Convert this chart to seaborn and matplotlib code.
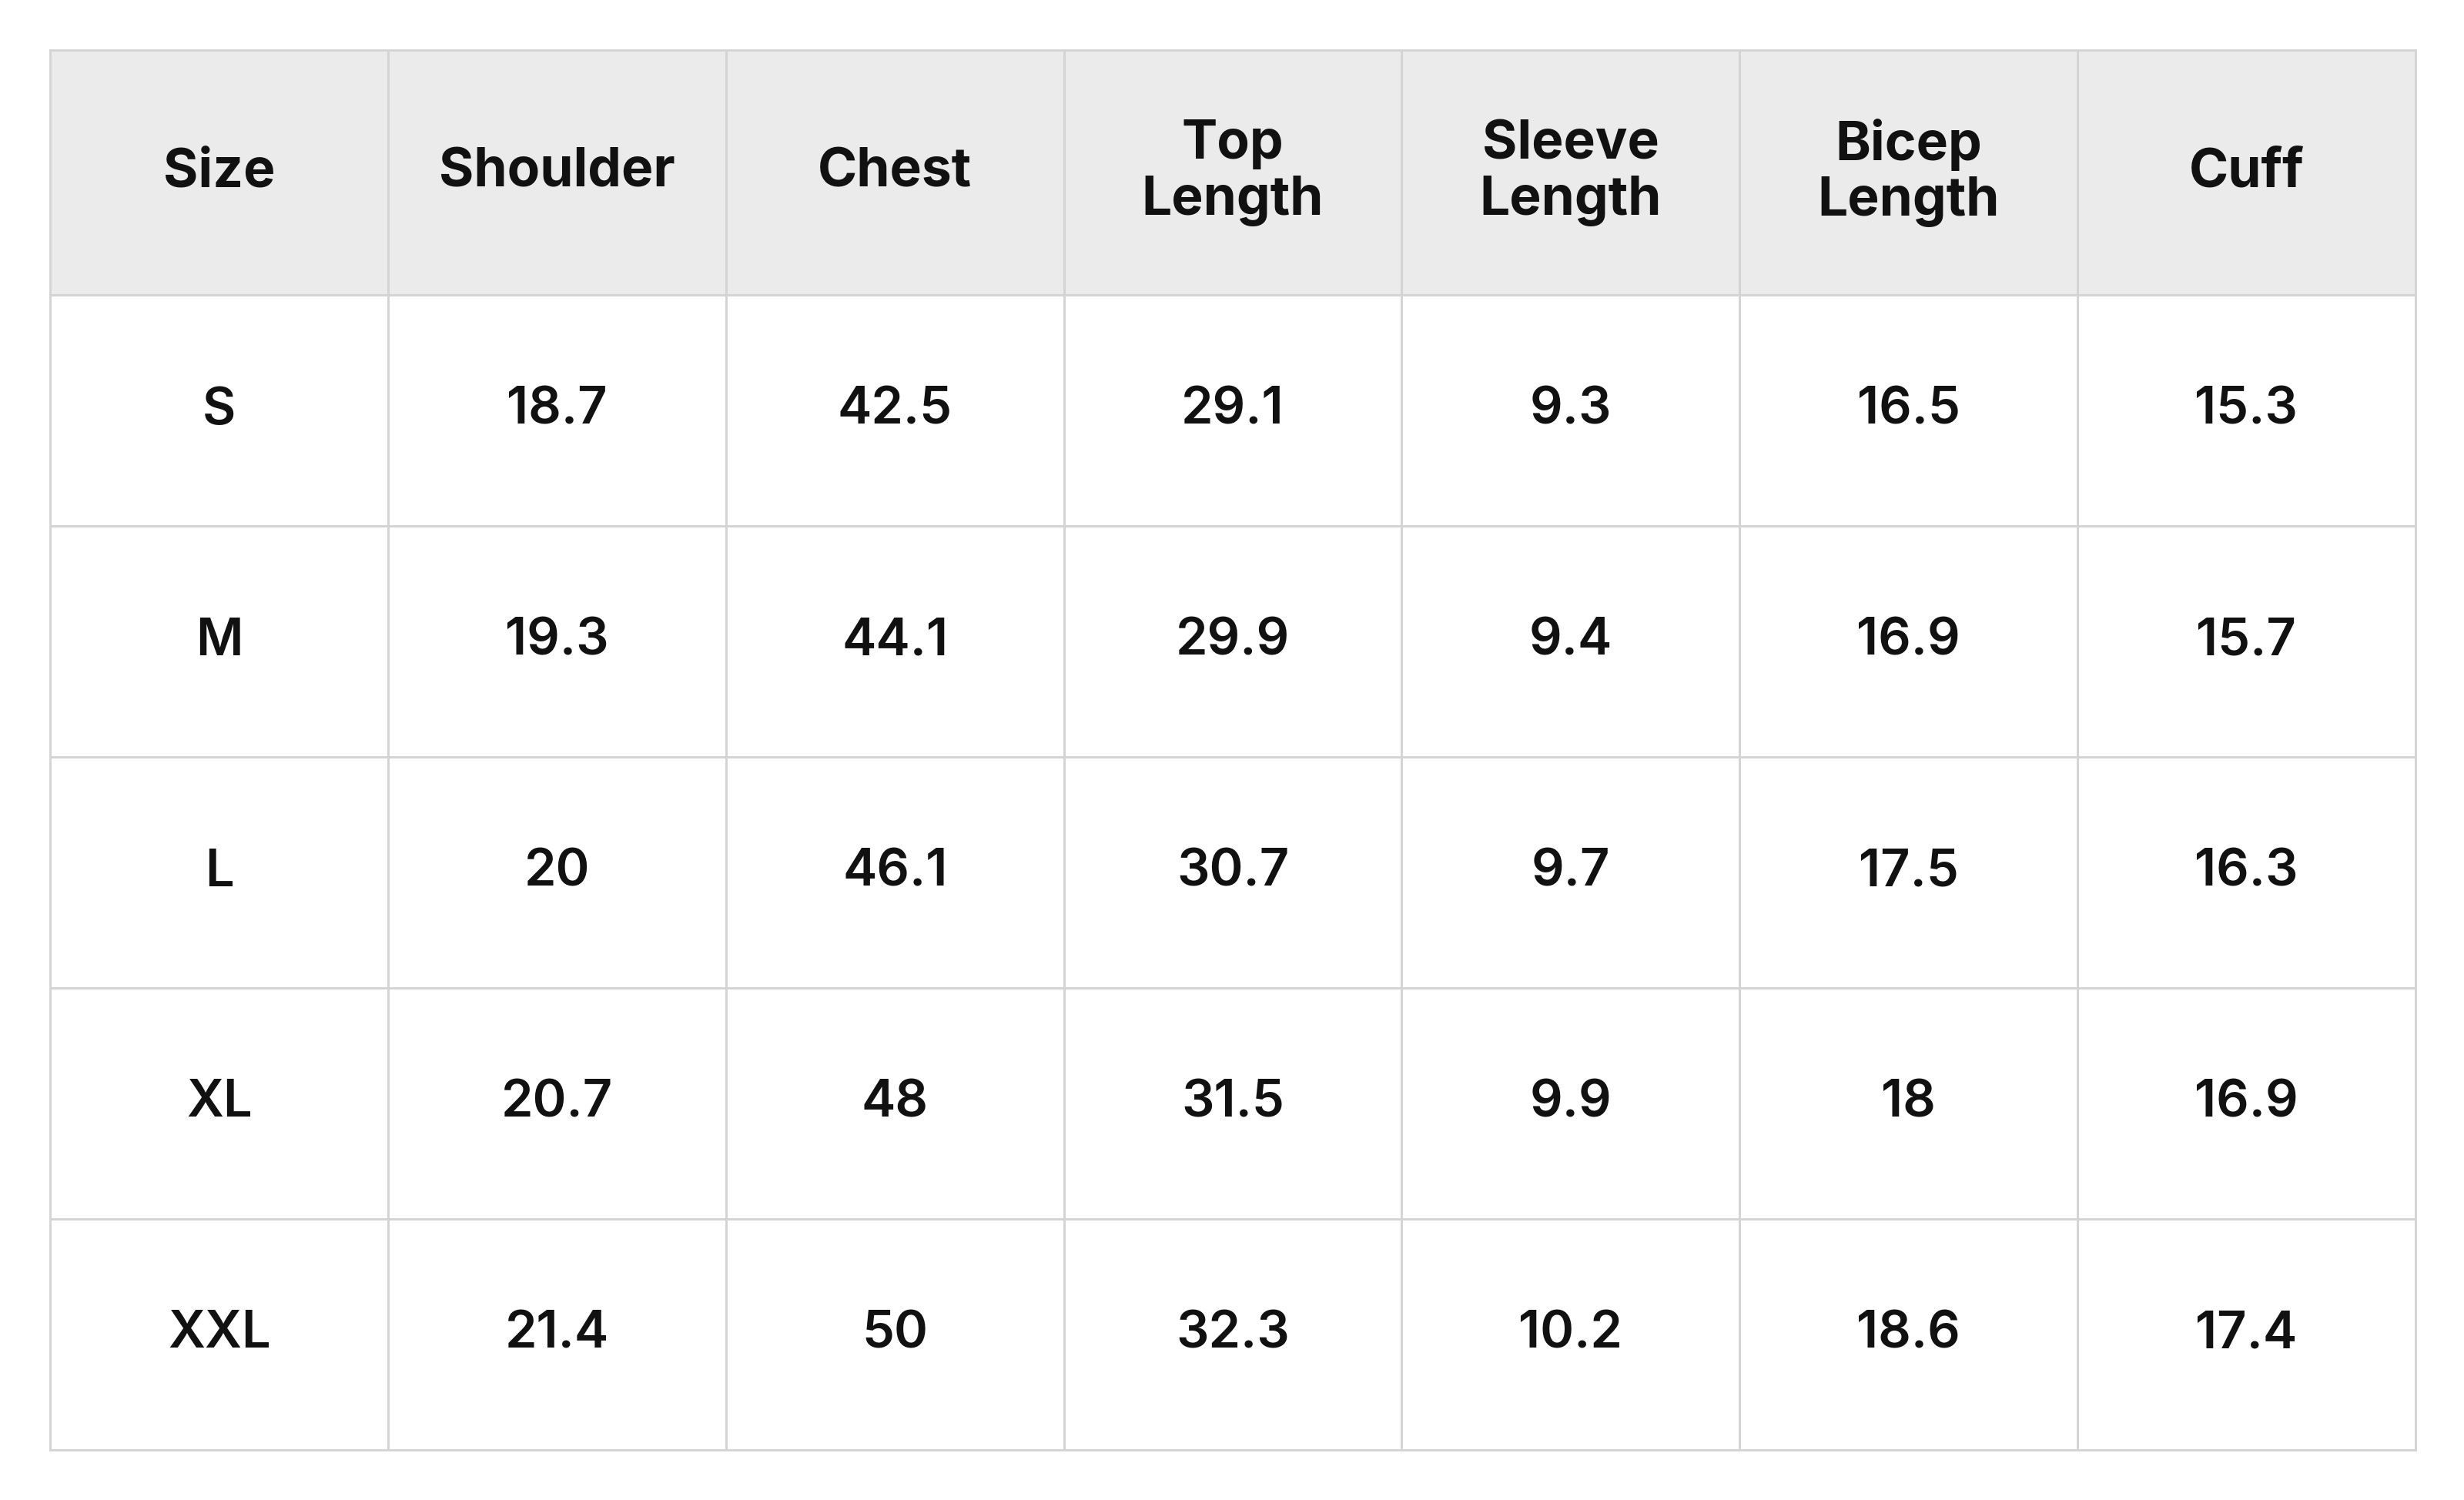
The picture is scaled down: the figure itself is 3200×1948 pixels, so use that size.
import numpy as np
import matplotlib
matplotlib.use("Agg")
import matplotlib.pyplot as plt
import seaborn as sns
from matplotlib.colors import ListedColormap

headers = ["Size", "Shoulder", "Chest", "Top\nLength", "Sleeve\nLength", "Bicep\nLength", "Cuff"]
sizes = ["S", "M", "L", "XL", "XXL"]
shoulder = ["18.7", "19.3", "20", "20.7", "21.4"]
chest = ["42.5", "44.1", "46.1", "48", "50"]
top_length = ["29.1", "29.9", "30.7", "31.5", "32.3"]
sleeve_length = ["9.3", "9.4", "9.7", "9.9", "10.2"]
bicep_length = ["16.5", "16.9", "17.5", "18", "18.6"]
cuff = ["15.3", "15.7", "16.3", "16.9", "17.4"]

sns.set_theme(style="white")
plt.rcParams['font.family'] = ['Inter', 'DejaVu Sans']

fig = plt.figure(figsize=(16, 9.74), dpi=200)
fig.patch.set_facecolor("white")
L, R = 32/1568, 1537/1568
top, hb, bot = 32/955, 188/955, 923/955
ax_h = fig.add_axes([L, 1-hb, R-L, hb-top])
ax_b = fig.add_axes([L, 1-bot, R-L, bot-hb])

line = "#d4d4d4"
hdr = np.array([headers])
sns.heatmap(np.zeros((1, 7)), ax=ax_h, cmap=ListedColormap(["#ebebeb"]), cbar=False,
            annot=hdr, fmt="", linewidths=1.0, linecolor=line,
            annot_kws=dict(fontsize=25, fontweight="bold", color="#111111", linespacing=1.15),
            xticklabels=False, yticklabels=False)
body = np.array([sizes, shoulder, chest, top_length, sleeve_length, bicep_length, cuff]).T
sns.heatmap(np.zeros((5, 7)), ax=ax_b, cmap=ListedColormap(["white"]), cbar=False,
            annot=body, fmt="", linewidths=1.0, linecolor=line,
            annot_kws=dict(fontsize=24, fontweight="semibold", color="#111111"),
            xticklabels=False, yticklabels=False)
for ax in (ax_h, ax_b):
    for s in ax.spines.values():
        s.set_visible(True); s.set_color(line); s.set_linewidth(1.0)
fig.savefig("out.png", dpi=200, facecolor="white")
